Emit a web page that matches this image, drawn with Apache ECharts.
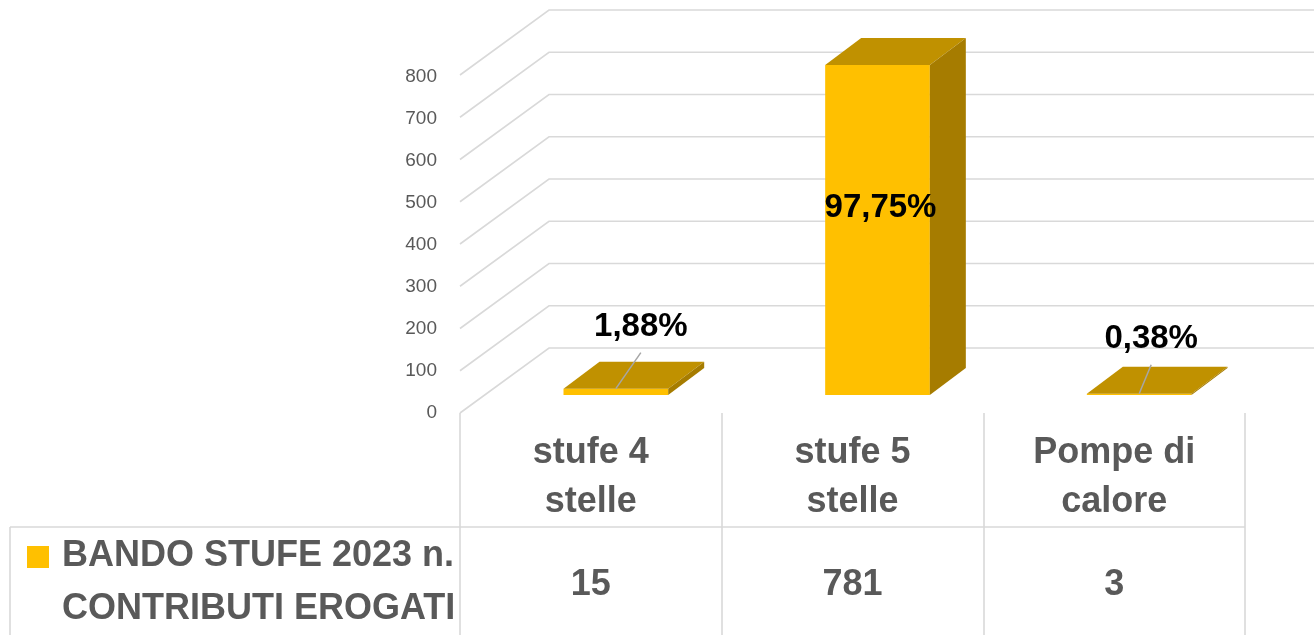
<!DOCTYPE html>
<html>
<head>
<meta charset="utf-8">
<script src="https://cdn.jsdelivr.net/npm/echarts@6/dist/echarts.min.js"></script>
<style>
html, body { margin: 0; padding: 0; background: #fff; }
#chart { width: 1314px; height: 635px; }
</style>
</head>
<body>
<div id="chart"></div>
<script>
// dati del grafico
var categories = ['stufe 4\nstelle', 'stufe 5\nstelle', 'Pompe di\ncalore'];
var values = [15, 781, 3];
var seriesName = 'BANDO STUFE 2023 n.\nCONTRIBUTI EROGATI';
var yTicks = [0, 100, 200, 300, 400, 500, 600, 700, 800];

var FONT = "'Liberation Sans', Arial, sans-serif";
var GRID_COLOR = '#D9D9D9';
var TEXT_GRAY = '#595959';
var total = values.reduce(function (a, b) { return a + b; }, 0);

// spostamenti prospettiva (3D finto)
var depth = [36, -27];        // profondità colonna
var wallBack = [64, -47];     // dal piano colonne alla parete di fondo
var wallFront = [-25, 18];    // dal piano colonne al piano frontale
var labelNudge = [[25, -62], null, [12, -55]];

function pct(v) {
    return (v / total * 100).toFixed(2).replace('.', ',') + '%';
}

// griglia: parete sinistra + parete di fondo
function renderGrid(params, api) {
    var p = api.coord([0, api.value(1)]);
    var x = params.coordSys.x;
    var y = p[1];
    return {
        type: 'polyline',
        shape: { points: [
            [x + wallFront[0], y + wallFront[1]],
            [x + wallBack[0], y + wallBack[1]],
            [1314, y + wallBack[1]]
        ] },
        style: { stroke: GRID_COLOR, lineWidth: 1.6, fill: null }
    };
}

// colonna 3D
function renderBar(params, api) {
    var i = api.value(0), v = api.value(1);
    var top = api.coord([i, v]);
    var base = api.coord([i, 0]);
    var w = api.size([1, 0])[0] * 0.4;
    var x0 = top[0] - w / 2, x1 = top[0] + w / 2;
    var yt = top[1], yb = base[1];
    var dx = depth[0], dy = depth[1];
    var children = [
        { type: 'rect', shape: { x: x0, y: yt, width: w, height: yb - yt },
          style: { fill: '#FFC000' } },
        { type: 'polygon', shape: { points: [[x0, yt], [x1, yt], [x1 + dx, yt + dy], [x0 + dx, yt + dy]] },
          style: { fill: '#C09100' } },
        { type: 'polygon', shape: { points: [[x1, yt], [x1 + dx, yt + dy], [x1 + dx, yb + dy], [x1, yb]] },
          style: { fill: '#A67C00' } }
    ];
    var nudge = labelNudge[i];
    if (nudge) {
        var lx = top[0] + nudge[0], ly = yt + nudge[1];
        children.push({ type: 'line', shape: { x1: lx, y1: ly + 26, x2: top[0], y2: yt },
            style: { stroke: '#A6A6A6', lineWidth: 1.5 } });
        children.push({ type: 'text', style: { text: pct(v), x: lx, y: ly,
            align: 'center', verticalAlign: 'middle', fill: '#000',
            fontSize: 33, fontWeight: 'bold', fontFamily: FONT } });
    } else {
        children.push({ type: 'text', style: { text: pct(v), x: top[0] + 3, y: (yt + yb) / 2 - 22,
            align: 'center', verticalAlign: 'middle', fill: '#000',
            fontSize: 33, fontWeight: 'bold', fontFamily: FONT } });
    }
    return { type: 'group', children: children };
}

// tabella dati sotto il grafico
function renderTable(params, api) {
    var i = api.value(0);
    var x = api.coord([i, 0])[0];
    var y0 = params.coordSys.y;
    return { type: 'group', children: [
        { type: 'text', style: { text: categories[i], x: x, y: y0 + 65,
            align: 'center', verticalAlign: 'middle', lineHeight: 49,
            fill: TEXT_GRAY, fontSize: 36, fontWeight: 'bold', fontFamily: FONT } },
        { type: 'text', style: { text: String(values[i]), x: x, y: y0 + 172,
            align: 'center', verticalAlign: 'middle',
            fill: TEXT_GRAY, fontSize: 36, fontWeight: 'bold', fontFamily: FONT } }
    ] };
}

var chart = echarts.init(document.getElementById('chart'));
var option = {
    animation: false,
    grid: [
        { left: 485, width: 785, top: 57, height: 338 },   // piano colonne
        { left: 460, width: 785, top: 77, height: 336 },   // piano frontale (etichette asse)
        { left: 460, width: 785, top: 413, height: 222 }   // tabella
    ],
    xAxis: [
        { gridIndex: 0, type: 'category', data: categories, show: false },
        { gridIndex: 1, type: 'category', data: categories, show: false },
        { gridIndex: 2, type: 'category', data: categories,
          axisLine: { show: false }, axisTick: { show: false }, axisLabel: { show: false },
          splitLine: { show: true, interval: 0, lineStyle: { color: GRID_COLOR, width: 1.6 } } }
    ],
    yAxis: [
        { gridIndex: 0, type: 'value', min: 0, max: 800, interval: 100, show: false },
        { gridIndex: 1, type: 'value', min: 0, max: 800, interval: 100,
          axisLine: { show: false }, axisTick: { show: false }, splitLine: { show: false },
          axisLabel: { margin: 23, color: TEXT_GRAY, fontSize: 19, fontFamily: FONT } },
        { gridIndex: 2, type: 'value', min: 0, max: 1, show: false }
    ],
    graphic: [
        { type: 'line', shape: { x1: 10, y1: 527, x2: 1245, y2: 527 },
          style: { stroke: GRID_COLOR, lineWidth: 1.6 } },
        { type: 'line', shape: { x1: 10, y1: 527, x2: 10, y2: 635 },
          style: { stroke: GRID_COLOR, lineWidth: 1.6 } },
        { type: 'rect', shape: { x: 27, y: 546, width: 22, height: 22 },
          style: { fill: '#FFC000' } },
        { type: 'text', x: 62, y: 530, style: { text: seriesName, verticalAlign: 'top',
          lineHeight: 53, fill: TEXT_GRAY, fontSize: 36, fontWeight: 'bold', fontFamily: FONT } }
    ],
    series: [
        { type: 'custom', xAxisIndex: 0, yAxisIndex: 0, z: 1, silent: true,
          renderItem: renderGrid, data: yTicks.map(function (v) { return [0, v]; }) },
        { type: 'custom', name: seriesName, xAxisIndex: 0, yAxisIndex: 0, z: 2,
          renderItem: renderBar, data: values.map(function (v, i) { return [i, v]; }) },
        { type: 'custom', xAxisIndex: 2, yAxisIndex: 2, z: 3, silent: true,
          renderItem: renderTable, data: values.map(function (v, i) { return [i, 0]; }) }
    ]
};
chart.setOption(option);
</script>
</body>
</html>
